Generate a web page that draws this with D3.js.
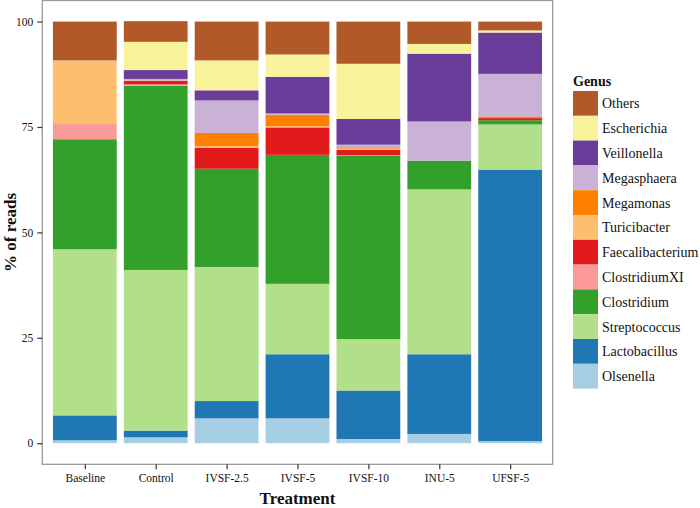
<!DOCTYPE html>
<html><head><meta charset="utf-8">
<script src="https://cdn.jsdelivr.net/npm/d3@7"></script>
<style>body{margin:0;background:#fff}svg{display:block}</style>
</head><body>
<svg id="c" width="700" height="508"></svg>
<script>
const treatments = ["Baseline","Control","IVSF-2.5","IVSF-5","IVSF-10","INU-5","UFSF-5"];
const genera = ["Olsenella","Lactobacillus","Streptococcus","Clostridium","ClostridiumXI","Faecalibacterium","Turicibacter","Megamonas","Megasphaera","Veillonella","Escherichia","Others"];
const colors = ["#a6cee3","#1f78b4","#b2df8a","#33a02c","#fb9a99","#e31a1c","#fdbf6f","#ff7f00","#cab2d6","#6a3d9a","#f8f29b","#b15928"];
// values per treatment, in the order of genera (% of reads)
const Olsenella        = [0.7, 1.4, 5.9, 5.9, 1.0, 2.2, 0.5];
const Lactobacillus    = [5.9, 1.6, 4.1, 15.2, 11.5, 18.9, 64.4];
const Streptococcus    = [39.4, 38.1, 31.8, 16.7, 12.2, 39.1, 10.7];
const Clostridium      = [26.1, 43.7, 23.3, 30.6, 43.5, 6.8, 1.0];
const ClostridiumXI    = [3.8, 0.3, 0.0, 0.0, 0.1, 0.0, 0.0];
const Faecalibacterium = [0.0, 0.8, 5.0, 6.5, 1.3, 0.0, 0.5];
const Turicibacter     = [14.9, 0.0, 0.4, 0.3, 0.3, 0.0, 0.0];
const Megamonas        = [0.0, 0.1, 3.1, 2.7, 0.3, 0.0, 0.4];
const Megasphaera      = [0.0, 0.4, 7.7, 0.3, 0.6, 9.3, 10.1];
const Veillonella      = [0.0, 2.1, 2.4, 8.7, 6.1, 16.1, 9.8];
const Escherichia      = [0.0, 6.7, 7.1, 5.3, 13.1, 2.3, 0.5];
const Others           = [9.2, 4.9, 9.2, 7.8, 10.0, 5.3, 2.1];
const yTicks = [0, 25, 50, 75, 100];

const series = {Olsenella,Lactobacillus,Streptococcus,Clostridium,ClostridiumXI,Faecalibacterium,Turicibacter,Megamonas,Megasphaera,Veillonella,Escherichia,Others};
const rows = treatments.map((t,i)=>{const r={treatment:t}; genera.forEach(g=>r[g]=series[g][i]); return r;});

const svg = d3.select("#c");
const font = "'Liberation Serif','Times New Roman',serif";
const L = 42.3, R = 552.7, T = 0.5, B = 464.3;

// emulate ggplot discrete expansion (0.6 units each side), bar width 0.9
const unit = (R - L) / 7.2;
const xs = d3.scalePoint().domain(treatments).range([L + 0.6 * unit, R - 0.6 * unit]);
const bw = 0.9 * unit;
const y = d3.scaleLinear().domain([-5, 105]).range([B, T]);
const color = d3.scaleOrdinal().domain(genera).range(colors);

const stack = d3.stack().keys(genera)(rows);

svg.append("g").selectAll("g").data(stack).join("g")
  .attr("fill", d => color(d.key))
  .selectAll("rect").data(d => d).join("rect")
  .attr("x", d => xs(d.data.treatment) - bw/2)
  .attr("width", bw)
  .attr("y", d => y(d[1]))
  .attr("height", d => Math.max(0, y(d[0]) - y(d[1])));

// panel border
svg.append("rect").attr("x", L).attr("y", T).attr("width", R - L).attr("height", B - T)
  .attr("fill", "none").attr("stroke", "#9a9a9a").attr("stroke-width", 1.3);

// y axis
const yAxis = svg.append("g").attr("transform", `translate(${L},0)`)
  .call(d3.axisLeft(y).tickValues(yTicks).tickSize(5).tickPadding(4));
yAxis.select(".domain").remove();
yAxis.selectAll(".tick line").attr("stroke", "#333").attr("stroke-width", 1.2);
yAxis.selectAll(".tick text").attr("font-family", font).attr("font-size", "11.5px").attr("fill", "#111");

// x axis
const xAxis = svg.append("g").attr("transform", `translate(0,${B})`)
  .call(d3.axisBottom(xs).tickSize(5).tickPadding(5));
xAxis.select(".domain").remove();
xAxis.selectAll(".tick line").attr("stroke", "#333").attr("stroke-width", 1.2);
xAxis.selectAll(".tick text").attr("font-family", font).attr("font-size", "11.5px").attr("fill", "#111");

// axis titles
svg.append("text").attr("x", (L + R) / 2).attr("y", 504).attr("text-anchor", "middle")
  .attr("font-family", font).attr("font-weight", "bold").attr("font-size", "17px").attr("fill", "#111")
  .text("Treatment");
svg.append("text").attr("transform", `translate(15.5,${(T + B) / 2}) rotate(-90)`).attr("text-anchor", "middle")
  .attr("font-family", font).attr("font-weight", "bold").attr("font-size", "17px").attr("fill", "#111")
  .text("% of reads");

// legend
const lg = svg.append("g");
lg.append("text").attr("x", 573).attr("y", 86).attr("font-family", font).attr("font-weight", "bold")
  .attr("font-size", "14px").attr("fill", "#111").text("Genus");
const legendOrder = genera.slice().reverse();
const kh = 24.8, ktop = 91;
legendOrder.forEach((g, i) => {
  lg.append("rect").attr("x", 573).attr("y", ktop + i * kh).attr("width", 25).attr("height", kh)
    .attr("fill", color(g));
  lg.append("text").attr("x", 602).attr("y", ktop + i * kh + kh / 2 + 5)
    .attr("font-family", font).attr("font-size", "14px").attr("fill", "#111").text(g);
});
</script>
</body></html>
